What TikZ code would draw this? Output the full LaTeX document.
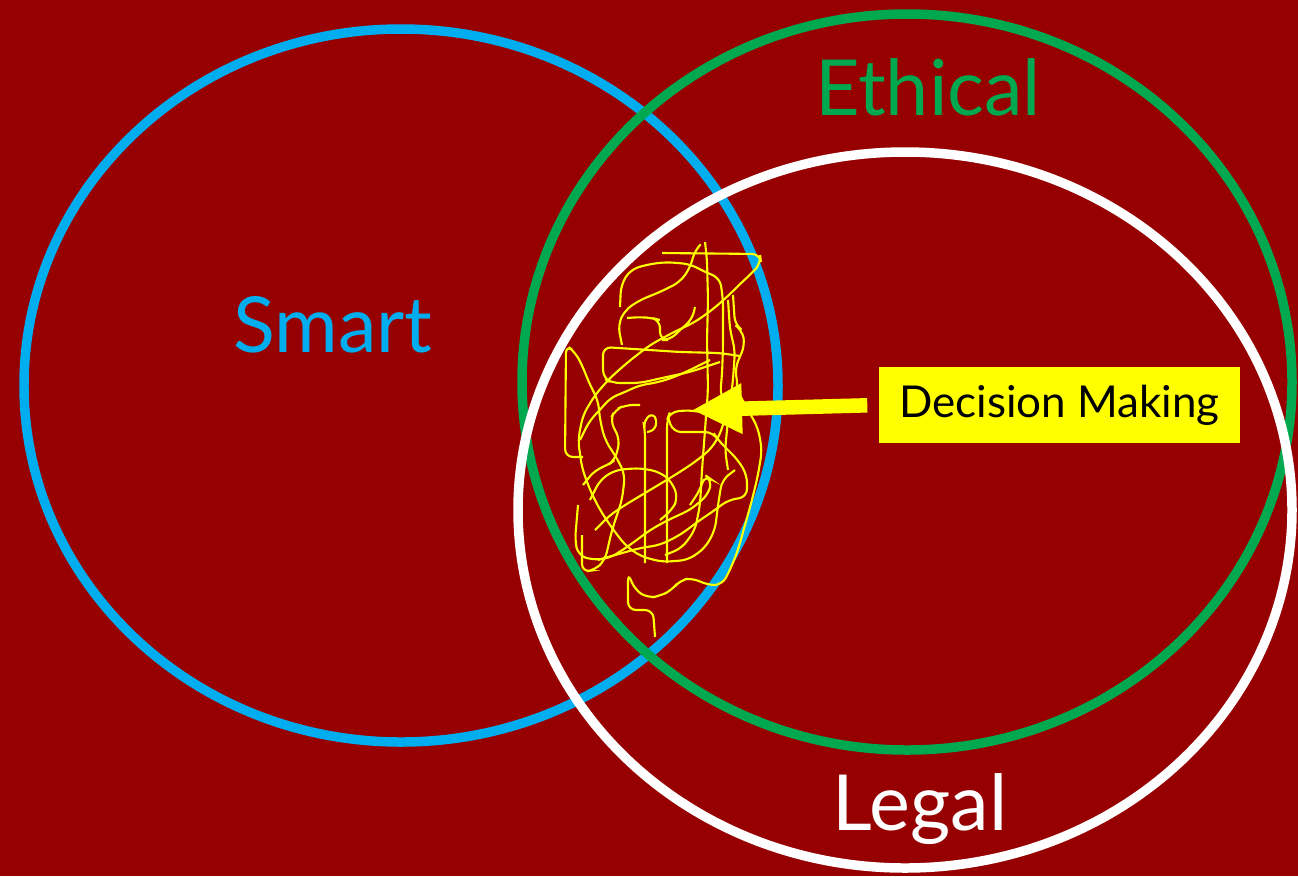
\documentclass[tikz,border=0pt]{standalone}
\usepackage{fontspec}
\setmainfont{Lato}
\usepackage{tikz}
\usetikzlibrary{arrows.meta,positioning}
\definecolor{deepred}{RGB}{150,0,0}
\definecolor{smartblue}{RGB}{0,174,239}
\definecolor{ethicgreen}{RGB}{0,168,80}
\definecolor{markyellow}{RGB}{255,255,0}

\begin{document}
\begin{tikzpicture}[x=0.1mm, y=-0.1mm,
      ring/.style={line width=2.7pt},
      bigword/.style={font=\fontsize{22}{24}\selectfont, anchor=base, inner sep=0pt},
      tag/.style={fill=markyellow, text=black, font=\fontsize{12.5}{14}\selectfont,
                  minimum width=36.1mm, minimum height=7.6mm, inner sep=0pt},
      arr/.style={-{Triangle[length=5mm, width=4.7mm]}, line width=1.45mm, markyellow,
                  shorten <=1.1mm},
      scrib/.style={markyellow, line width=0.6pt, rounded corners=0.8mm}
    ]
    % BACKGROUND
    \fill[deepred] (0,0) rectangle (1298,876);
    \useasboundingbox (0,0) rectangle (1298,876);
    % THE THREE RINGS
    \draw[ring, smartblue] (401,385.5) ellipse [x radius=377, y radius=356.5];
    \draw[ring, ethicgreen] (907,382) ellipse [x radius=385, y radius=368];
    \draw[ring, white] (905,510) ellipse [x radius=387, y radius=358];
    % ring labels
    \node[bigword, text=smartblue] (smartlbl) at (333,352) {Smart};
    \node[bigword, text=ethicgreen] (ethiclbl) at (928,115) {Ethical};
    \node[bigword, text=white] (legallbl) at (920,830) {Legal};
    % SCRIBBLE in the overlap
    \draw[scrib] (662,253) -- (760,254) -- (761,263) -- (752,273) -- (740,284) -- (728,296)
      -- (712,310) -- (695,322) -- (672,333) -- (650,345) -- (628,362) -- (610,378)
      -- (595,395) -- (583,415) -- (578,440) -- (582,468) -- (590,490) -- (600,510)
      -- (612,528) -- (625,545) -- (640,556) -- (662,562) -- (688,560) -- (705,548)
      -- (715,530) -- (718,505) -- (722,480) -- (735,470);
    \draw[scrib] (705,242) -- (707,260) -- (708,300) -- (707,340) -- (708,390) -- (705,430)
      -- (702,470) -- (700,505) -- (695,530) -- (682,548) -- (665,555);
    \draw[scrib] (583,457) -- (565,457) -- (566,345) -- (575,352) -- (582,365) -- (590,385)
      -- (598,400) -- (600,420) -- (605,440) -- (618,460) -- (625,475) -- (622,500)
      -- (612,530) -- (605,560) -- (595,570) -- (582,572) -- (582,535);
    \draw[scrib] (620,307) -- (621,285) -- (630,270) -- (645,265) -- (665,262) -- (690,264)
      -- (705,272) -- (720,278) -- (723,300) -- (723,347) -- (722,375) -- (720,395)
      -- (730,410) -- (738,388) -- (735,368) -- (745,345) -- (742,330) -- (735,325) -- (733,295);
    \draw[scrib] (720,362) -- (690,372) -- (662,378) -- (640,383) -- (612,383) -- (603,378)
      -- (603,347) -- (680,352) -- (720,353) -- (740,356);
    \draw[scrib] (645,563) -- (645,430) -- (643,420) -- (655,412) -- (657,430) -- (647,432);
    \draw[scrib] (667,563) -- (667,420) -- (670,412) -- (690,410) -- (700,412);
    \draw[scrib] (668,417) -- (673,432) -- (713,432) -- (718,440) -- (738,460) -- (747,475)
      -- (747,497) -- (728,500) -- (715,510) -- (700,520) -- (680,535) -- (660,545)
      -- (640,548) -- (615,555) -- (598,560);
    \draw[scrib] (737,390) -- (758,428) -- (762,450) -- (758,475) -- (752,500) -- (745,525)
      -- (738,550) -- (730,570) -- (722,585) -- (707,585) -- (693,578) -- (680,580)
      -- (672,590) -- (660,596) -- (648,598) -- (635,590) -- (628,573) -- (628,610)
      -- (653,610) -- (655,637);
    \draw[scrib] (595,530) -- (610,515) -- (625,505) -- (650,490) -- (675,475) -- (695,462)
      -- (712,448) -- (722,430) -- (725,415);
    \draw[scrib] (627,318) -- (640,317) -- (652,318) -- (660,320) -- (660,340) -- (670,340)
      -- (683,327) -- (692,320) -- (695,307);
    \draw[scrib] (580,440) -- (590,420) -- (600,410) -- (610,398) -- (625,392) -- (640,385)
      -- (655,383) -- (672,378) -- (690,370) -- (710,360);
    \draw[scrib] (583,485) -- (595,470) -- (608,465) -- (615,460) -- (620,440) -- (610,420)
      -- (615,410) -- (625,405) -- (640,405);
    \draw[scrib] (578,505) -- (575,540) -- (578,555) -- (592,560) -- (610,558) -- (630,545)
      -- (650,530) -- (668,520) -- (690,510) -- (708,495) -- (712,480) -- (705,475)
      -- (700,490) -- (690,505);
    \draw[scrib] (622,345) -- (618,325) -- (625,310) -- (640,300) -- (660,292) -- (680,282)
      -- (690,268) -- (695,250) -- (700,245);
    \draw[scrib] (590,500) -- (600,480) -- (615,470) -- (640,468) -- (660,472) -- (672,482)
      -- (678,498) -- (672,510) -- (660,520);
    \draw[scrib] (728,300) -- (730,330) -- (735,350) -- (733,380) -- (728,420) -- (725,450)
      -- (728,470);
    % TAG + pointer
    \node[tag] (dm) at (1059.5,405) {Decision Making};
    \coordinate (dmtip) at (692,410);
    \draw[arr] (dm.west) -- (dmtip);
\end{tikzpicture}
\end{document}
